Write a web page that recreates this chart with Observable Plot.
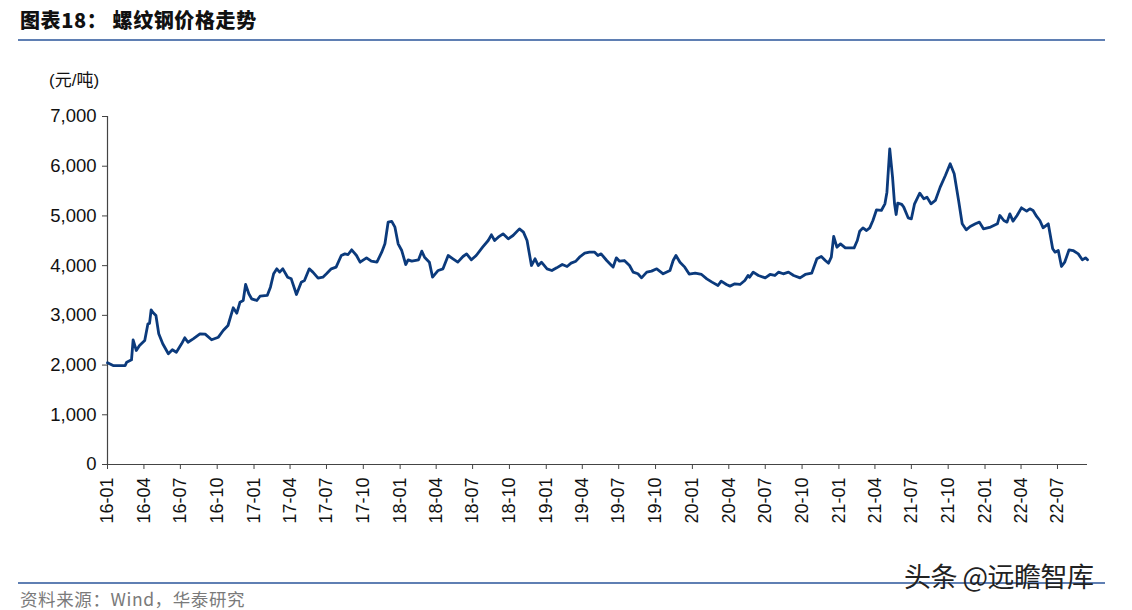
<!DOCTYPE html>
<html>
<head>
<meta charset="utf-8">
<script src="https://cdn.jsdelivr.net/npm/d3@7"></script>
<script src="https://cdn.jsdelivr.net/npm/@observablehq/plot@0.6"></script>
<style>
  html, body { margin: 0; padding: 0; background: #fff; }
  #wrap { position: relative; width: 1132px; height: 610px; overflow: hidden; font-family: "Liberation Sans", Arial, sans-serif; }
  #title { position: absolute; left: 20px; top: 5px; font-family: "Noto Sans CJK SC", sans-serif; font-weight: 900; font-size: 20px; color: #111; letter-spacing: 0.6px; z-index: 2; }
  .rule { position: absolute; left: 18px; width: 1087px; height: 2px; background: #5f7fb3; z-index: 1; }
  #unit { position: absolute; left: 49px; top: 66px; font-size: 17px; color: #111; font-family: "Liberation Sans", "Noto Sans CJK SC", sans-serif; z-index: 2; }
  #source { position: absolute; left: 20px; top: 586px; font-size: 17.5px; letter-spacing: 0.6px; color: #7a7a7a; font-family: "Noto Sans CJK SC", sans-serif; z-index: 2; }
  #mark { position: absolute; left: 904px; top: 556px; font-size: 27px; color: #222; font-family: "Noto Sans CJK SC", sans-serif; z-index: 3; letter-spacing: -0.5px; }
  #chart { position: absolute; left: 0; top: 60px; z-index: 0; }
  #chart svg text { font-family: "Liberation Sans", Arial, sans-serif; }
</style>
</head>
<body>
<div id="wrap">
  <div id="title">图表18：&nbsp;螺纹钢价格走势</div>
  <div class="rule" style="top:39px"></div>
  <div id="unit">(元/吨)</div>
  <div id="chart"></div>
  <div class="rule" style="top:582px"></div>
  <div id="source">资料来源：Wind，华泰研究</div>
  <div id="mark">头条 @远瞻智库</div>
</div>
<script>
const dates = [
"2016-01-01","2016-01-15","2016-02-14","2016-02-18","2016-03-01","2016-03-05","2016-03-13","2016-03-21","2016-04-03","2016-04-11",
"2016-04-15","2016-04-19","2016-04-23","2016-05-01","2016-05-08","2016-05-18","2016-06-01","2016-06-11","2016-06-21","2016-07-04",
"2016-07-12","2016-07-20","2016-08-02","2016-08-19","2016-09-01","2016-09-17","2016-10-04","2016-10-16","2016-10-28","2016-11-10",
"2016-11-19","2016-11-27","2016-12-05","2016-12-11","2016-12-19","2016-12-26","2017-01-08","2017-01-16","2017-02-03","2017-02-11",
"2017-02-19","2017-02-27","2017-03-06","2017-03-14","2017-03-26","2017-04-04","2017-04-17","2017-04-29","2017-05-07","2017-05-19",
"2017-05-28","2017-06-10","2017-06-22","2017-07-01","2017-07-13","2017-07-25","2017-08-07","2017-08-16","2017-08-24","2017-09-02",
"2017-09-14","2017-09-23","2017-10-09","2017-10-21","2017-11-04","2017-11-16","2017-11-24","2017-12-02","2017-12-11","2017-12-19",
"2017-12-27","2018-01-05","2018-01-15","2018-01-21","2018-01-30","2018-02-16","2018-02-24","2018-03-03","2018-03-15","2018-03-23",
"2018-04-06","2018-04-18","2018-05-01","2018-05-13","2018-05-25","2018-06-07","2018-06-16","2018-06-28","2018-07-10","2018-07-26",
"2018-08-09","2018-08-17","2018-08-25","2018-09-03","2018-09-15","2018-09-28","2018-10-10","2018-10-26","2018-11-05","2018-11-14",
"2018-11-25","2018-12-04","2018-12-12","2018-12-20","2019-01-03","2019-01-15","2019-01-27","2019-02-10","2019-02-22","2019-03-04",
"2019-03-16","2019-03-25","2019-04-07","2019-04-19","2019-05-02","2019-05-10","2019-05-18","2019-06-01","2019-06-13","2019-06-17",
"2019-06-25","2019-07-03","2019-07-15","2019-07-28","2019-08-06","2019-08-18","2019-08-27","2019-09-09","2019-09-21","2019-10-04",
"2019-10-20","2019-11-06","2019-11-14","2019-11-21","2019-12-01","2019-12-13","2019-12-24","2020-01-08","2020-01-24","2020-02-06",
"2020-02-19","2020-03-05","2020-03-13","2020-03-26","2020-04-04","2020-04-16","2020-04-29","2020-05-11","2020-05-19","2020-05-23",
"2020-06-01","2020-06-14","2020-07-01","2020-07-13","2020-07-25","2020-08-03","2020-08-15","2020-08-28","2020-09-10","2020-09-26",
"2020-10-09","2020-10-25","2020-11-07","2020-11-18","2020-11-28","2020-12-06","2020-12-13","2020-12-19","2020-12-27","2021-01-05",
"2021-01-17","2021-02-08","2021-02-16","2021-02-22","2021-03-02","2021-03-11","2021-03-19","2021-03-27","2021-04-05","2021-04-17",
"2021-04-26","2021-05-01","2021-05-08","2021-05-15","2021-05-20","2021-05-24","2021-05-28","2021-06-07","2021-06-12","2021-06-23",
"2021-07-01","2021-07-09","2021-07-22","2021-08-01","2021-08-09","2021-08-19","2021-08-30","2021-09-11","2021-09-24","2021-10-06",
"2021-10-16","2021-10-27","2021-11-05","2021-11-15","2021-11-25","2021-12-08","2021-12-18","2021-12-28","2022-01-15","2022-02-01",
"2022-02-07","2022-02-17","2022-02-25","2022-03-04","2022-03-12","2022-03-22","2022-04-02","2022-04-15","2022-04-23","2022-05-01",
"2022-05-10","2022-05-18","2022-05-26","2022-06-08","2022-06-19","2022-06-25","2022-07-03","2022-07-11","2022-07-19","2022-07-30",
"2022-08-09","2022-08-22","2022-09-01","2022-09-09","2022-09-14"
];
const prices = [
2045,1990,1990,2058,2105,2508,2293,2393,2494,2830,
2840,3111,3064,2997,2629,2428,2227,2307,2259,2428,
2548,2460,2528,2629,2622,2508,2561,2695,2796,3152,
3044,3265,3298,3621,3434,3333,3299,3385,3400,3567,
3836,3936,3870,3936,3768,3735,3420,3668,3700,3936,
3870,3748,3768,3836,3936,3970,4204,4237,4224,4318,
4204,4070,4157,4090,4070,4271,4439,4874,4890,4774,
4439,4304,4023,4117,4090,4117,4291,4170,4070,3768,
3903,3936,4204,4137,4070,4184,4237,4117,4204,4371,
4506,4620,4506,4573,4640,4540,4606,4740,4674,4506,
4003,4137,4003,4070,3936,3902,3956,4023,3983,4050,
4090,4170,4250,4271,4271,4204,4237,4103,4003,3970,
4157,4090,4103,4003,3870,3836,3755,3870,3890,3936,
3836,3903,4103,4204,4070,3970,3830,3848,3822,3735,
3668,3601,3688,3621,3588,3634,3621,3701,3802,3768,
3869,3802,3755,3822,3802,3869,3836,3869,3802,3755,
3822,3848,4137,4184,4103,4050,4170,4586,4371,4438,
4358,4358,4506,4693,4760,4707,4760,4908,5123,5110,
5244,5478,6350,5779,5244,5029,5258,5231,5177,4962,
4942,5244,5458,5345,5378,5244,5311,5579,5814,6049,
5848,5311,4842,4721,4788,4842,4875,4741,4775,4842,
5009,4908,4875,5042,4895,5009,5163,5096,5143,5109,
4989,4908,4761,4842,4339,4271,4304,3983,4070,4318,
4304,4237,4117,4157,4117
];
const yTicks = [0,1000,2000,3000,4000,5000,6000,7000];

const data = dates.map((d, i) => ({date: new Date(d), price: prices[i]}));
const xStart = new Date(dates[0]);
const xEnd = new Date(dates[dates.length - 1]);
const xTicks = d3.utcMonth.every(3).range(xStart, new Date(xEnd.getTime() - 86400000 * 30));

const chart = Plot.plot({
  width: 1132,
  height: 480,
  marginTop: 56,
  marginBottom: 76,
  marginLeft: 107,
  marginRight: 45,
  style: {fontFamily: "'Liberation Sans', Arial, sans-serif", fontSize: "18px", color: "#111", background: "transparent"},
  x: {type: "utc", domain: [xStart, xEnd]},
  y: {domain: [0, 7000]},
  marks: [
    Plot.axisY({ticks: yTicks, tickFormat: d3.format(","), tickSize: 5, tickPadding: 6, label: null, fontSize: 18.5, stroke: "#444", fill: "#111"}),
    Plot.axisX({ticks: xTicks, tickFormat: d3.utcFormat("%y-%m"), tickSize: 5, tickPadding: 8, tickRotate: -90, label: null, fontSize: 18, stroke: "#444", fill: "#111"}),
    Plot.ruleX([xStart], {stroke: "#444", strokeWidth: 1.2}),
    Plot.ruleY([0], {stroke: "#444", strokeWidth: 1.2}),
    Plot.line(data, {x: "date", y: "price", stroke: "#0b3a7c", strokeWidth: 2.8, curve: "linear"})
  ]
});
document.getElementById("chart").appendChild(chart);
</script>
</body>
</html>
